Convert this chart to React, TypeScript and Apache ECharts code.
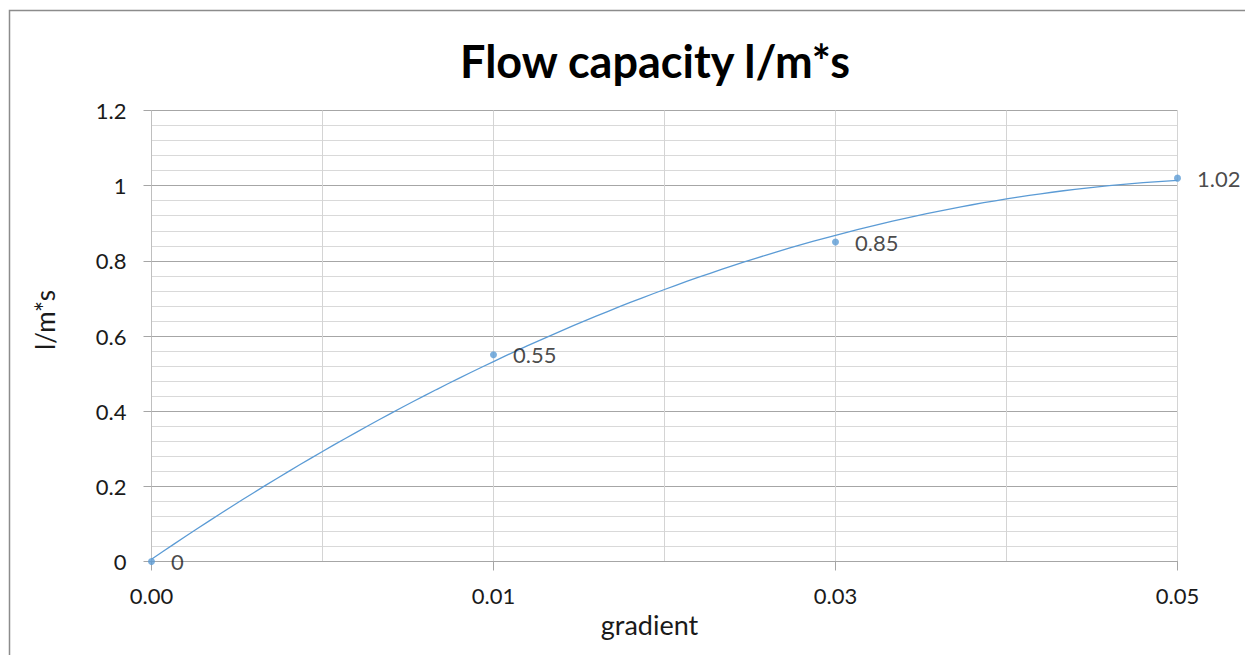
import React, { useEffect, useRef } from "react";
import * as echarts from "echarts";

// ---- data ----
const xPositions = [0, 1, 2, 3];
const xTickLabels = ["0.00", "0.01", "0.03", "0.05"];
const flowValues = [0, 0.55, 0.85, 1.02];
const yTicks = { min: 0, max: 1.2, interval: 0.2 };

const titleText = "Flow capacity l/m*s";
const xAxisName = "gradient";
const yAxisName = "l/m*s";

const BLUE = "#5B9BD5";
const FONT = "Lato, 'Open Sans', sans-serif";

// Excel-style polynomial (order 2) trendline, least-squares fit of the data
function quadFit(xs: number[], ys: number[]) {
  const n = xs.length;
  let s1 = 0, s2 = 0, s3 = 0, s4 = 0, t0 = 0, t1 = 0, t2 = 0;
  for (let i = 0; i < n; i++) {
    const x = xs[i], y = ys[i];
    s1 += x; s2 += x * x; s3 += x * x * x; s4 += x * x * x * x;
    t0 += y; t1 += x * y; t2 += x * x * y;
  }
  const A = [
    [n, s1, s2, t0],
    [s1, s2, s3, t1],
    [s2, s3, s4, t2],
  ];
  for (let c = 0; c < 3; c++) {
    for (let r = c + 1; r < 3; r++) {
      const f = A[r][c] / A[c][c];
      for (let k = c; k < 4; k++) A[r][k] -= f * A[c][k];
    }
  }
  const coef = [0, 0, 0];
  for (let r = 2; r >= 0; r--) {
    let s = A[r][3];
    for (let k = r + 1; k < 3; k++) s -= A[r][k] * coef[k];
    coef[r] = s / A[r][r];
  }
  return coef;
}

export default function App() {
  const ref = useRef<HTMLDivElement>(null);
  useEffect(() => {
    if (!ref.current) return;
    const chart = echarts.init(ref.current, null, { renderer: "svg" });
    const coef = quadFit(xPositions, flowValues);
    const trend: number[][] = [];
    const x0 = xPositions[0], x1 = xPositions[xPositions.length - 1];
    const steps = 90;
    for (let i = 0; i <= steps; i++) {
      const x = x0 + ((x1 - x0) * i) / steps;
      trend.push([x, coef[0] + coef[1] * x + coef[2] * x * x]);
    }
    const points = xPositions.map((x, i) => [x, flowValues[i]]);

    chart.setOption({
      animation: false,
      backgroundColor: "#ffffff",
      textStyle: { fontFamily: FONT },
      title: {
        text: titleText,
        left: 650,
        top: 33,
        textAlign: "center",
        textStyle: { fontFamily: FONT, fontWeight: "bold", fontSize: 45, color: "#000000" },
      },
      graphic: [
        {
          type: "rect",
          shape: { x: 9.5, y: 10.5, width: 1400, height: 800 },
          style: { fill: "none", stroke: "#8c8c8c", lineWidth: 1.5 },
          silent: true,
        },
      ],
      grid: { left: 151.5, top: 110.5, width: 1026, height: 451 },
      xAxis: {
        type: "value",
        min: 0,
        max: 3,
        interval: 1,
        name: xAxisName,
        nameLocation: "middle",
        nameGap: 49,
        nameTextStyle: { fontFamily: FONT, fontSize: 27, color: "#1a1a1a", padding: [0, 30, 0, 0] },
        axisLine: { show: true, lineStyle: { color: "#a6a6a6", width: 1 } },
        axisTick: { show: true, length: 9, lineStyle: { color: "#a6a6a6" } },
        axisLabel: {
          margin: 23,
          fontFamily: FONT,
          fontSize: 22,
          color: "#1a1a1a",
          formatter: (v: number) => {
            const i = xPositions.indexOf(v);
            return i >= 0 ? xTickLabels[i] : "";
          },
        },
        splitLine: { show: true, lineStyle: { color: "#d4d4d4", width: 1 } },
        minorTick: { show: false, splitNumber: 2 },
        minorSplitLine: { show: true, lineStyle: { color: "#d4d4d4", width: 1 } },
      },
      yAxis: {
        type: "value",
        min: yTicks.min,
        max: yTicks.max,
        interval: yTicks.interval,
        name: yAxisName,
        nameLocation: "middle",
        nameRotate: 90,
        nameGap: 94,
        nameTextStyle: { fontFamily: FONT, fontSize: 26, color: "#1a1a1a", padding: [0, 0, 0, 32] },
        axisLine: { show: true, lineStyle: { color: "#bfbfbf", width: 1 } },
        axisTick: { show: true, length: 8, lineStyle: { color: "#a6a6a6" } },
        axisLabel: { margin: 25, fontFamily: FONT, fontSize: 22, color: "#1a1a1a" },
        splitLine: { show: true, lineStyle: { color: "#a6a6a6", width: 1 } },
        minorTick: { show: false, splitNumber: 5 },
        minorSplitLine: { show: true, lineStyle: { color: "#d9d9d9", width: 1 } },
      },
      series: [
        {
          name: "trendline",
          type: "line",
          data: trend,
          showSymbol: false,
          symbol: "none",
          silent: true,
          lineStyle: { color: BLUE, width: 1.3 },
          z: 2,
        },
        {
          name: "flow capacity",
          type: "scatter",
          data: points,
          symbol: "circle",
          symbolSize: 7,
          itemStyle: { color: BLUE },
          label: {
            show: true,
            position: "right",
            distance: 16,
            fontFamily: FONT,
            fontSize: 22,
            color: "#1a1a1a",
            formatter: (p: any) => String(p.value[1]),
          },
          z: 3,
        },
      ],
    });
    return () => chart.dispose();
  }, []);

  return (
    <div
      ref={ref}
      style={{ position: "fixed", left: 0, top: 0, width: 1245, height: 655, background: "#fff" }}
    />
  );
}
